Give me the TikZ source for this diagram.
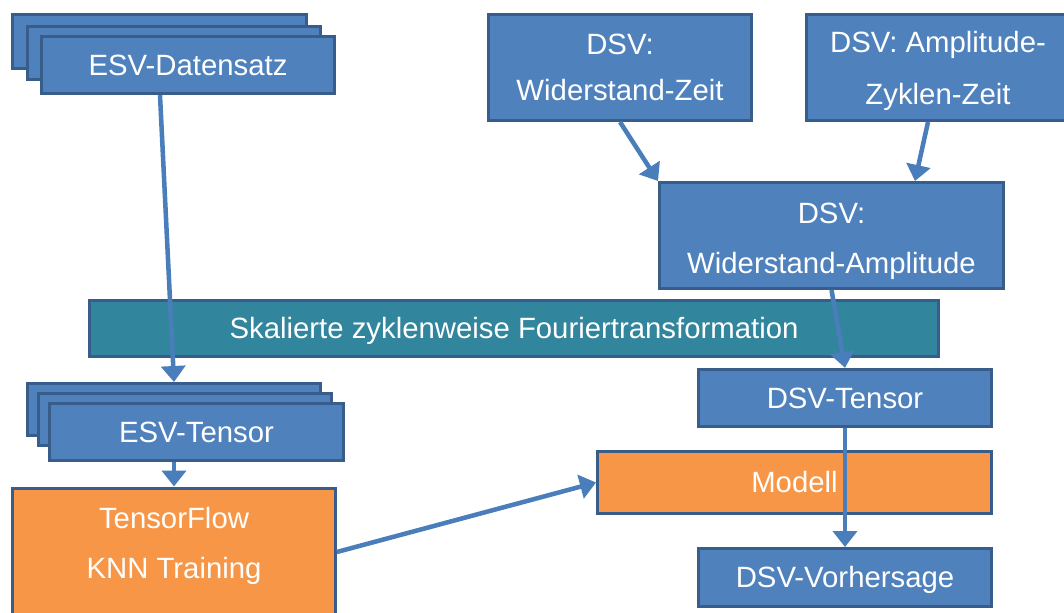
\documentclass[tikz,border=0pt]{standalone}
\usepackage{fontspec}
\setmainfont{Liberation Sans}
\usetikzlibrary{arrows.meta}
\definecolor{blau}{HTML}{4F81BD}
\definecolor{rand}{HTML}{385D8A}
\definecolor{tuerkis}{HTML}{31859C}
\definecolor{orange}{HTML}{F79646}
\definecolor{pfeil}{HTML}{4A7EBB}

\begin{document}
\begin{tikzpicture}[x={(0.75pt,0)}, y={(0,-0.75pt)},
    kasten/.style={draw=rand, fill=blau, line width=2.25pt, text=white,
      align=center, inner sep=0pt, font=\fontsize{22}{35}\selectfont},
    zeile/.style={text height=19.9pt, text depth=4.7pt},
    stapel/.style={kasten, minimum width=220pt, minimum height=40pt},
    breit/.style={kasten, zeile, minimum width=220pt, minimum height=43pt},
    hoch/.style={kasten, minimum height=79.5pt},
    knn/.style={kasten, fill=orange},
    pfeilstil/.style={draw=pfeil, line width=3.4pt,
      -{Triangle[width=18pt,length=12pt]}}]
  \useasboundingbox (0,0) rectangle (1064,613);
  \clip (0,0) rectangle (1064,613);
  % ESV-Seite
  \node[stapel] (esvA) at (159.5,41.5) {};
  \node[stapel] (esvB) at (174,53) {};
  \node[breit] (esvdaten) at (188,65) {ESV-Datensatz};
  \node[stapel, minimum height=39pt] (esvtA) at (174,409.5) {};
  \node[stapel, minimum height=39pt] (esvtB) at (185,419.5) {};
  \node[breit] (esvtensor) at (196.5,432) {ESV-Tensor};
  \node[knn, minimum width=242pt, minimum height=96pt] (training) at (174,552)
    {TensorFlow\\[3pt]KNN Training\rule[-13.6pt]{0pt}{1pt}};
  % DSV-Seite
  \node[hoch, minimum width=197pt] (wzeit) at (620,67.5) {DSV:\\Widerstand-Zeit};
  \node[hoch, minimum width=197pt] (azz) at (938,67.5)
    {\rule{0pt}{21.2pt}DSV: Amplitude-\\[4pt]Zyklen-Zeit};
  \node[hoch, minimum width=258pt] (wamp) at (831.5,235.5)
    {\rule{0pt}{23.5pt}DSV:\\[2.5pt]Widerstand-Amplitude};
  \node[kasten, zeile, fill=tuerkis, minimum width=637pt, minimum height=42pt] (fourier)
    at (514,328.5) {Skalierte zyklenweise Fouriertransformation};
  \node[breit] (dsvtensor) at (845,398) {DSV-Tensor};
  \node[knn, zeile, minimum width=295.5pt, minimum height=46.5pt] (modell) at (794.5,482.5) {Modell};
  \node[breit, minimum height=43.5pt] (vorhersage) at (845,577.5) {DSV-Vorhersage};
  % Pfeile
  \draw[pfeilstil] ([xshift=-21pt]esvdaten.south) -- (esvtA.north);
  \draw[pfeilstil] (esvtensor.south -| training.north) -- (training.north);
  \draw[pfeilstil] (training.east) -- (modell.west);
  \draw[pfeilstil] (wzeit.south) -- (wamp.north west);
  \draw[pfeilstil] ([xshift=-7.5pt]azz.south) -- ([xshift=62.6pt]wamp.north);
  \draw[pfeilstil] (wamp.south) -- (dsvtensor.north);
  \draw[pfeilstil] (dsvtensor.south) -- (vorhersage.north);
\end{tikzpicture}
\end{document}
